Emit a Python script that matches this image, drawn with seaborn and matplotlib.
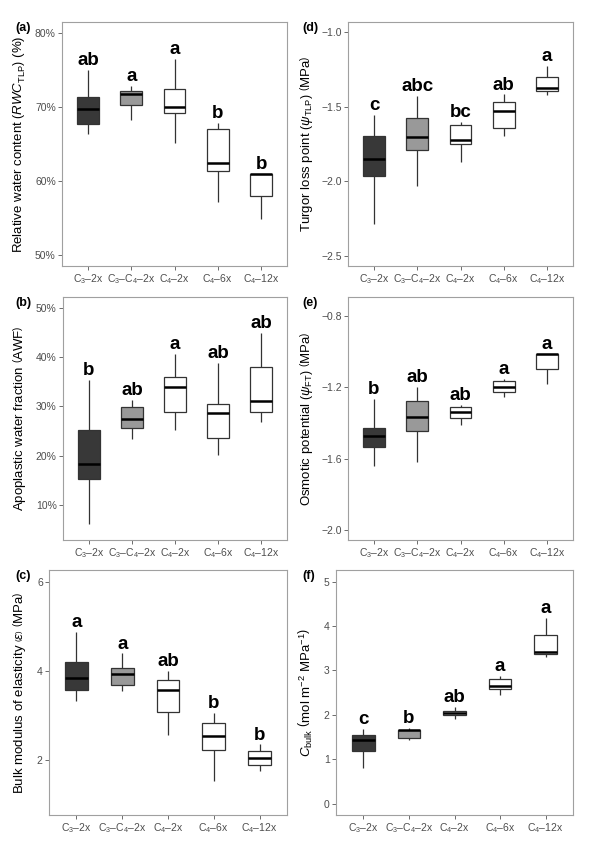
import numpy as np
import pandas as pd
import seaborn as sns
from matplotlib import pyplot as plt
from matplotlib.ticker import PercentFormatter

groups = ['C3-2x', 'C3-C4-2x', 'C4-2x', 'C4-6x', 'C4-12x']
group_labels = [r'C$_3$–2x', r'C$_3$–C$_4$–2x', r'C$_4$–2x', r'C$_4$–6x', r'C$_4$–12x']

# (a) relative water content at TLP (%)
rwc_lo = [66.3, 68.3, 65.2, 57.2, 54.8]
rwc_q1 = [67.7, 70.3, 69.2, 61.3, 57.9]
rwc_med = [69.7, 71.8, 70.0, 62.4, 61.0]
rwc_q3 = [71.4, 72.2, 72.5, 67.0, 61.0]
rwc_hi = [75.0, 72.8, 76.5, 67.9, 61.0]
rwc_letters = ['ab', 'a', 'a', 'b', 'b']

# (b) apoplastic water fraction (%)
awf_lo = [6.1, 23.3, 25.3, 20.1, 26.8]
awf_q1 = [15.2, 25.6, 28.8, 23.6, 28.9]
awf_med = [18.4, 27.4, 33.9, 28.7, 31.0]
awf_q3 = [25.3, 29.8, 36.0, 30.5, 38.0]
awf_hi = [35.3, 31.3, 40.7, 38.8, 44.9]
awf_letters = ['b', 'ab', 'a', 'ab', 'ab']

# (c) bulk modulus of elasticity (MPa)
eps_lo = [3.33, 3.54, 2.56, 1.53, 1.75]
eps_q1 = [3.58, 3.69, 3.07, 2.22, 1.89]
eps_med = [3.83, 3.93, 3.57, 2.54, 2.05]
eps_q3 = [4.20, 4.07, 3.80, 2.84, 2.21]
eps_hi = [4.88, 4.39, 3.99, 3.05, 2.35]
eps_letters = ['a', 'a', 'ab', 'b', 'b']

# (d) turgor loss point (MPa)
tlp_lo = [-2.285, -2.029, -1.868, -1.693, -1.420]
tlp_q1 = [-1.964, -1.789, -1.747, -1.643, -1.394]
tlp_med = [-1.848, -1.704, -1.720, -1.531, -1.372]
tlp_q3 = [-1.697, -1.572, -1.619, -1.469, -1.300]
tlp_hi = [-1.556, -1.428, -1.600, -1.417, -1.226]
tlp_letters = ['c', 'abc', 'bc', 'ab', 'a']

# (e) osmotic potential at full turgor (MPa)
ft_lo = [-1.641, -1.622, -1.411, -1.252, -1.179]
ft_q1 = [-1.535, -1.445, -1.370, -1.228, -1.097]
ft_med = [-1.471, -1.364, -1.340, -1.200, -1.011]
ft_q3 = [-1.430, -1.277, -1.310, -1.164, -1.011]
ft_hi = [-1.265, -1.196, -1.299, -1.153, -1.011]
ft_letters = ['b', 'ab', 'ab', 'a', 'a']

# (f) bulk capacitance
cb_lo = [0.80, 1.44, 1.91, 2.45, 3.31]
cb_q1 = [1.18, 1.48, 2.01, 2.58, 3.36]
cb_med = [1.43, 1.66, 2.05, 2.66, 3.42]
cb_q3 = [1.54, 1.66, 2.10, 2.80, 3.79]
cb_hi = [1.69, 1.70, 2.19, 2.87, 4.18]
cb_letters = ['c', 'b', 'ab', 'a', 'a']

palette = {'C3-2x': '#383838', 'C3-C4-2x': '#999999',
           'C4-2x': 'white', 'C4-6x': 'white', 'C4-12x': 'white'}

sns.set_style('ticks')
plt.rcParams['font.family'] = ['Liberation Sans', 'DejaVu Sans']
plt.rcParams['mathtext.fontset'] = 'custom'
plt.rcParams['mathtext.rm'] = 'Liberation Sans'
plt.rcParams['mathtext.it'] = 'Liberation Sans:italic'
plt.rcParams['mathtext.bf'] = 'Liberation Sans:bold'

W, H = 595, 842
fig = plt.figure(figsize=(W / 100, H / 100), dpi=100)

panels = [
    # tag, box (l, r, t, b) in px, stats, letters, ylim, yticks, ylabel, percent
    ('(a)', (62, 287, 22, 266), (rwc_lo, rwc_q1, rwc_med, rwc_q3, rwc_hi), rwc_letters,
     (48.5, 81.5), [50, 60, 70, 80],
     r'Relative water content $\left(RWC_{\mathrm{TLP}}\right)$ (%)', True),
    ('(b)', (63, 287, 297, 540), (awf_lo, awf_q1, awf_med, awf_q3, awf_hi), awf_letters,
     (2.9, 52.2), [10, 20, 30, 40, 50],
     r'Apoplastic water fraction $\left(\mathrm{AWF}\right)$', True),
    ('(c)', (49, 287, 570, 815), (eps_lo, eps_q1, eps_med, eps_q3, eps_hi), eps_letters,
     (0.77, 6.26), [2, 4, 6],
     r'Bulk modulus of elasticity $\left(\varepsilon\right)$ $\left(\mathrm{MPa}\right)$', False),
    ('(d)', (348, 573, 22, 266), (tlp_lo, tlp_q1, tlp_med, tlp_q3, tlp_hi), tlp_letters,
     (-2.57, -0.93), [-2.5, -2.0, -1.5, -1.0],
     r'Turgor loss point $\left(\psi_{\mathrm{TLP}}\right)$ $\left(\mathrm{MPa}\right)$', False),
    ('(e)', (348, 573, 297, 540), (ft_lo, ft_q1, ft_med, ft_q3, ft_hi), ft_letters,
     (-2.058, -0.692), [-2.0, -1.6, -1.2, -0.8],
     r'Osmotic potential $\left(\psi_{\mathrm{FT}}\right)$ $\left(\mathrm{MPa}\right)$', False),
    ('(f)', (336, 573, 570, 815), (cb_lo, cb_q1, cb_med, cb_q3, cb_hi), cb_letters,
     (-0.25, 5.26), [0, 1, 2, 3, 4, 5],
     r'$C_{\mathrm{bulk}}\ \left(\mathrm{mol\ m^{-2}\ MPa^{-1}}\right)$', False),
]

for tag, (l, r, t, b), stats, letters, ylim, yticks, ylabel, pct in panels:
    ax = fig.add_axes([l / W, 1 - b / H, (r - l) / W, (b - t) / H])
    df = pd.DataFrame({'group': np.repeat(groups, 5),
                       'value': np.column_stack(stats).ravel()})
    sns.boxplot(data=df, x='group', y='value', hue='group', order=groups,
                hue_order=groups, palette=palette, width=0.5, whis=(0, 100),
                showcaps=False, linecolor='#333333', linewidth=0.9,
                medianprops={'color': 'black', 'linewidth': 1.8},
                legend=False, ax=ax)
    hi = stats[4]
    for i, (h, s) in enumerate(zip(hi, letters)):
        ax.annotate(s, (i, h), xytext=(0, 3.5), textcoords='offset points',
                    ha='center', va='baseline', fontsize=13.5,
                    fontweight='bold', color='black')
    ax.set_xlim(-0.6, 4.6)
    ax.set_ylim(*ylim)
    ax.set_yticks(yticks)
    if pct:
        ax.yaxis.set_major_formatter(PercentFormatter(decimals=0))
    ax.set_xticks(range(5))
    ax.set_xticklabels(group_labels)
    ax.set_xlabel('')
    ax.set_ylabel(ylabel, fontsize=9.5, color='black')
    lx = 28 if l < 200 else 315
    ax.yaxis.set_label_coords(lx / W, 1 - (t + b) / 2 / H, transform=fig.transFigure)
    ax.tick_params(axis='both', direction='out', length=3, width=0.6,
                   color='#555555', labelsize=7.5, labelcolor='#4d4d4d', pad=1.5)
    for sp in ax.spines.values():
        sp.set_color('#a0a0a0')
        sp.set_linewidth(0.8)
    tx = 15 if l < 200 else 302
    fig.text(tx / W, 1 - t / H, tag, fontsize=9, fontweight='bold',
             va='top', color='black')

fig.savefig('out.png', dpi=100)
